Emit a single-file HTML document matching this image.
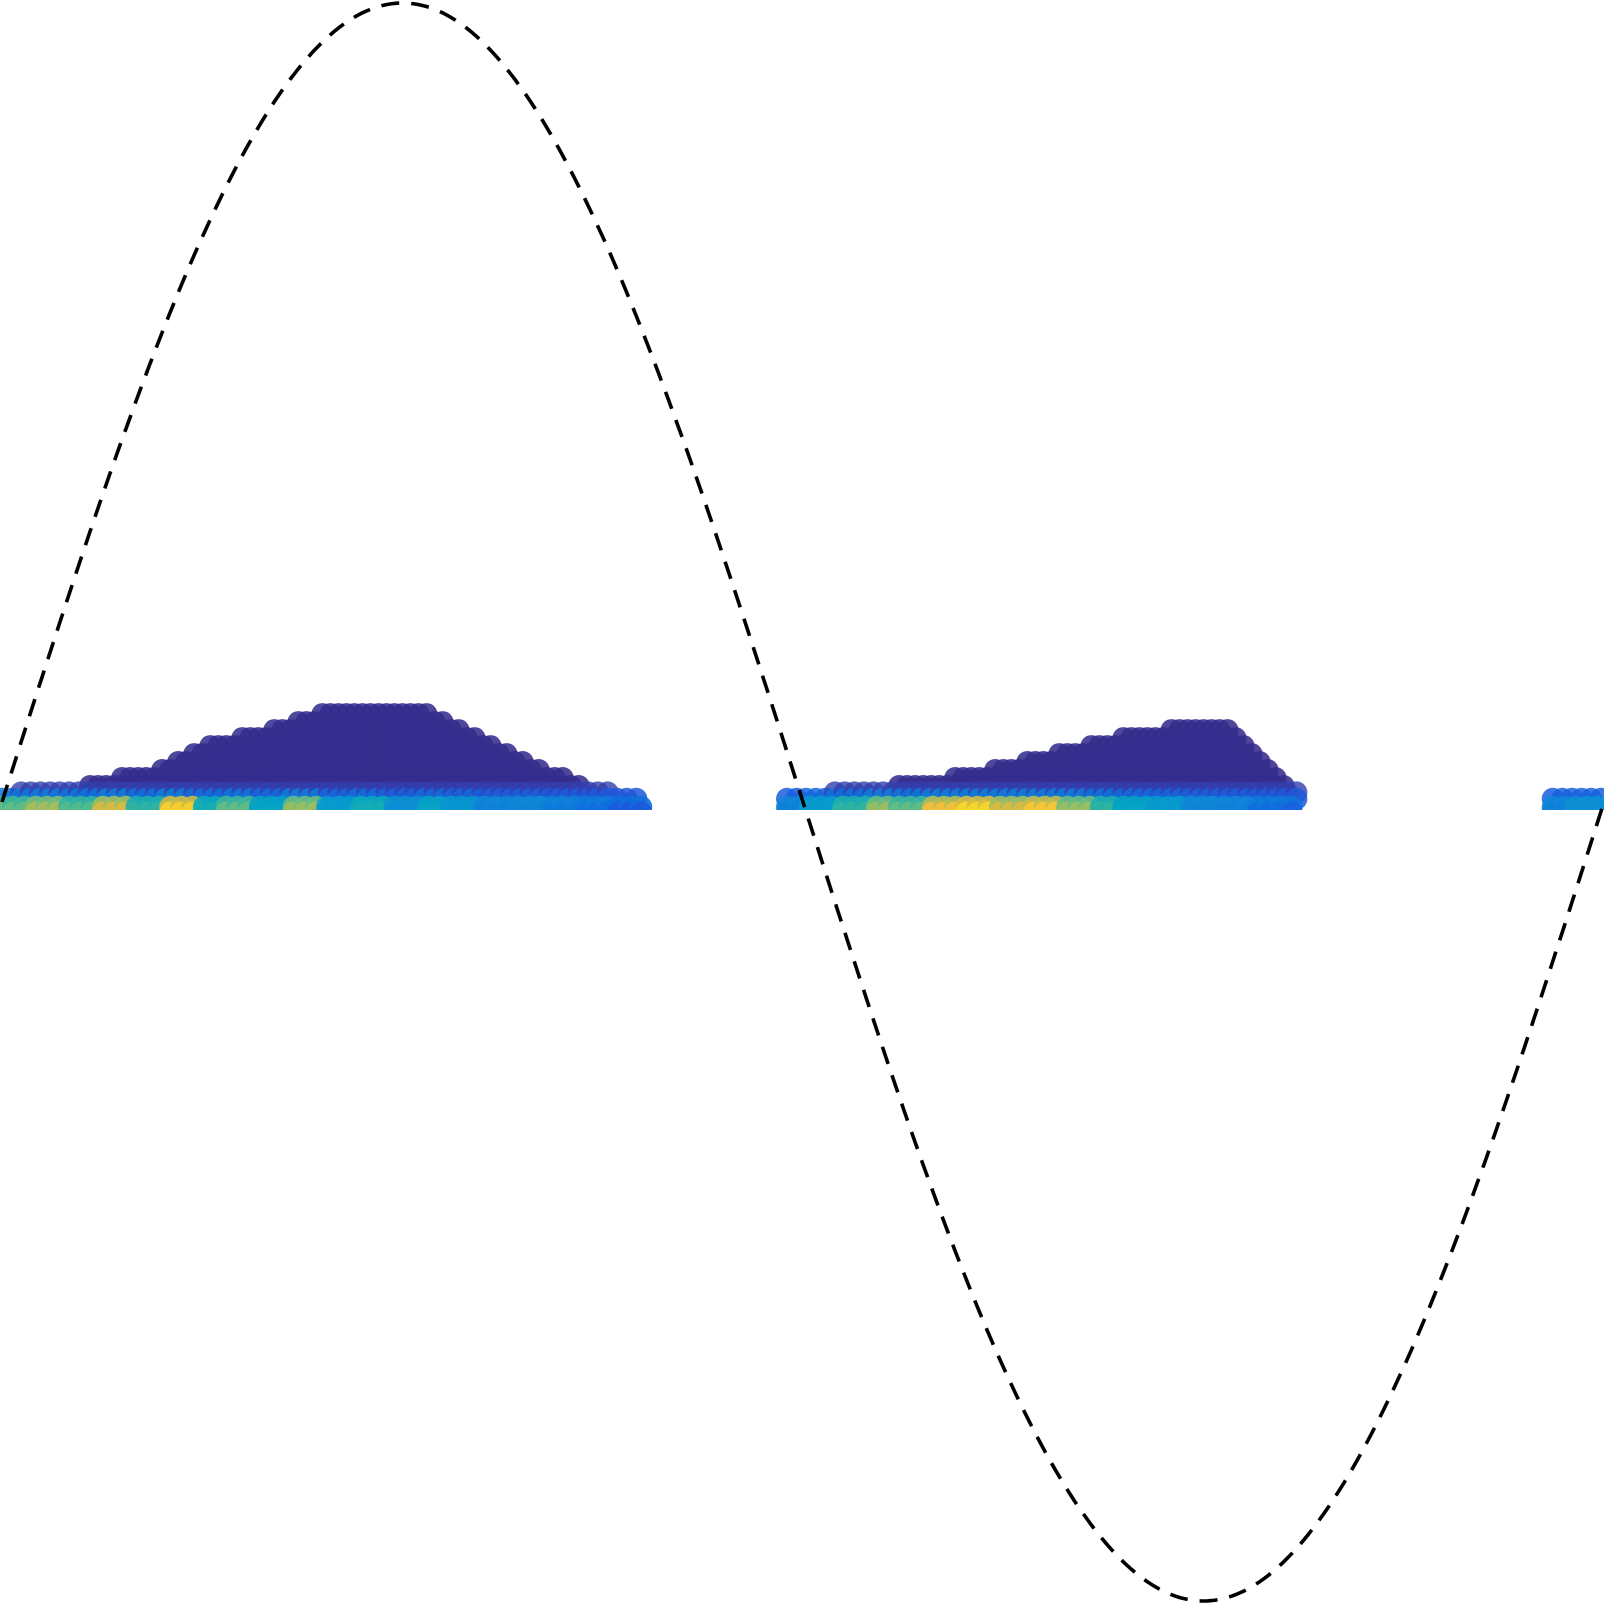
<!DOCTYPE html>
<html><head><meta charset="utf-8"><style>html,body{margin:0;padding:0;background:#fff;}svg{display:block;}</style></head>
<body>
<svg id="chart" width="1604" height="1604" viewBox="0 0 1604 1604" xmlns="http://www.w3.org/2000/svg">
<defs><clipPath id="clip"><rect x="0" y="0" width="1604" height="810"/></clipPath></defs>
<g id="dots" clip-path="url(#clip)"></g>
<path id="sine" fill="none" stroke="#000" stroke-width="3.6" stroke-dasharray="18,12"/>
</svg>
<script>
// mound profiles (x in period fraction, height in y-data units)
const prof1X = [0.0, 0.05, 0.10, 0.13, 0.17, 0.20, 0.24, 0.27, 0.31, 0.34, 0.37, 0.40];
const prof1H = [0.008, 0.02, 0.04, 0.07, 0.09, 0.11, 0.12, 0.11, 0.07, 0.04, 0.015, 0.004];
const prof2X = [0.49, 0.54, 0.58, 0.62, 0.66, 0.70, 0.74, 0.77, 0.79, 0.81];
const prof2H = [0.004, 0.015, 0.025, 0.04, 0.06, 0.08, 0.095, 0.09, 0.05, 0.01];
const prof3X = [0.968, 1.0];
const prof3H = [0.003, 0.006];
// bottom row colours (parula index 0..1) by x bins of 0.02
const baseVals = [0.62,0.72,0.6,0.8,0.55,0.9,0.5,0.62,0.45,0.7,0.4,0.5,0.35,0.45,0.38,0.3,0.32,0.28,0.25,0.2,0.18,
                  0.0,0.0,0.0,0.0,0.4,0.55,0.7,0.62,0.85,0.92,0.8,0.88,0.7,0.55,0.45,0.4,0.32,0.3,0.25,0.22,
                  0.0,0.0,0.0,0.0,0.0,0.0,0.0,0.0,0.35,0.4];

const X0 = 2, X1 = 1604, YC = 802, YA = 799;
const sx = v => X0 + v * (X1 - X0);
const sy = v => YC - v * YA;
const NS = "http://www.w3.org/2000/svg";

const parula = [[0.2081,0.1663,0.5292],[0.2116,0.1898,0.5777],[0.1959,0.2617,0.7005],[0.1085,0.3540,0.8685],[0.0498,0.4586,0.8641],[0.0590,0.5347,0.8400],[0.0257,0.6036,0.8037],[0.0207,0.6526,0.7514],[0.1470,0.6945,0.6600],[0.3360,0.7300,0.5500],[0.5300,0.7450,0.4300],[0.7000,0.7400,0.3300],[0.8600,0.7300,0.2500],[0.9900,0.7500,0.2200],[0.9600,0.8700,0.1400],[0.9763,0.9831,0.0538]];
function col(t){t=Math.max(0,Math.min(1,t));const f=t*(parula.length-1),i=Math.floor(f),r=f-i;const a=parula[i],b=parula[Math.min(i+1,parula.length-1)];return `rgb(${[0,1,2].map(k=>Math.round(255*(a[k]+(b[k]-a[k])*r))).join(',')})`;}
function interp(xs,hs,x){if(x<xs[0]||x>xs[xs.length-1])return null;for(let i=0;i<xs.length-1;i++){if(x>=xs[i]&&x<=xs[i+1]){const r=(x-xs[i])/(xs[i+1]-xs[i]||1);return hs[i]+(hs[i+1]-hs[i])*r;}}return hs[hs.length-1];}

const g = document.getElementById('dots');
function dot(x,y,c,op){
  const e=document.createElementNS(NS,'circle');
  e.setAttribute('cx',sx(x).toFixed(1));e.setAttribute('cy',sy(y).toFixed(1));e.setAttribute('r',11);
  e.setAttribute('fill',c);e.setAttribute('fill-opacity',op||'0.88');
  
  
  g.appendChild(e);
}
const profs=[[prof1X,prof1H],[prof2X,prof2H],[prof3X,prof3H]];
// layer 1: purple mounds
profs.forEach(([px,ph])=>{
  for(let x=px[0];x<=px[px.length-1]+1e-9;x+=0.005){
    const h=interp(px,ph,x); if(h==null)continue;
    for(let y=0.02;y<=h;y+=0.01) dot(x,y,col(0.03));
  }
});
// layer 2: blue transition
profs.forEach(([px,ph])=>{
  for(let x=px[0];x<=px[px.length-1]+1e-9;x+=0.006){
    const h=interp(px,ph,x); if(h==null)continue;
    const bi=Math.min(baseVals.length-1,Math.floor(x/0.02));
    const bv=baseVals[bi]||0.3;
    if(h>0.01) dot(x,0.012,col(0.12),'0.8');
    dot(x,0.004,col(Math.min(0.3,0.15+bv*0.2)),'0.85');
  }
});
// layer 3: colourful base rows
profs.forEach(([px,ph])=>{
  for(let x=px[0];x<=px[px.length-1]+1e-9;x+=0.007){
    const bi=Math.min(baseVals.length-1,Math.floor(x/0.02));
    const bv=baseVals[bi]||0.3;
    dot(x,-0.006,col(bv*0.75+0.1),'0.9');
    dot(x,-0.013,col(bv),'0.9');
  }
});

// sine curve
const N=400;let d='';
for(let i=0;i<=N;i++){const v=i/N;d+=(i?'L':'M')+sx(v).toFixed(1)+','+sy(Math.sin(2*Math.PI*v)).toFixed(1);}
document.getElementById('sine').setAttribute('d',d);
</script>
</body></html>
